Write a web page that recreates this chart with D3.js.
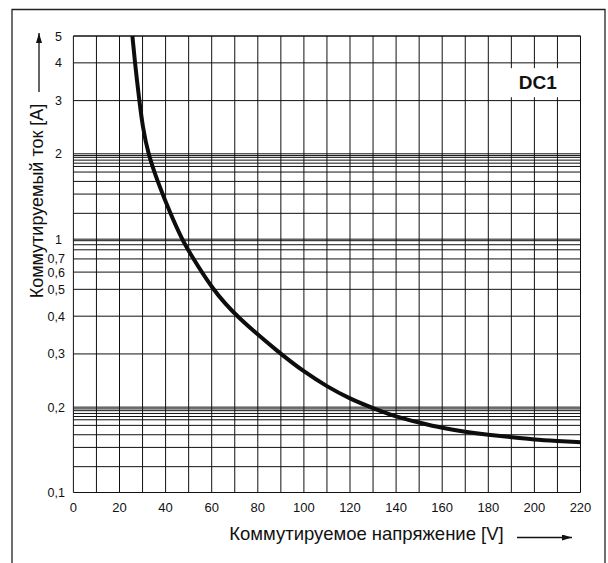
<!DOCTYPE html>
<html>
<head>
<meta charset="utf-8">
<script src="https://cdn.jsdelivr.net/npm/d3@7"></script>
<style>
  body { margin: 0; background: #fff; }
  svg text { font-family: "Liberation Sans", Arial, sans-serif; fill: #111; }
</style>
</head>
<body>
<svg id="chart"></svg>
<script>
// curve (DC1)
const voltage = [25.6, 26.7, 28.6, 30.0, 32.4, 36.5, 42.0, 47.1, 50.1, 60.3, 70.5, 89.9,
                 100, 110, 120, 130, 140, 150, 160, 170, 180, 190, 200, 210, 220];
const current = [5, 4, 3, 2.47, 2, 1.3, 1.1, 1.0, 0.78, 0.5, 0.4, 0.3,
                 0.262, 0.234, 0.213, 0.194, 0.159, 0.145, 0.137, 0.133, 0.130, 0.128, 0.126, 0.125, 0.124];

const xTickValues = [0, 20, 40, 60, 80, 100, 120, 140, 160, 180, 200, 220];
const xGridValues = d3.range(0, 221, 10);
const yTickValues = [0.1, 0.2, 0.3, 0.4, 0.5, 0.6, 0.7, 1, 2, 3, 4, 5];
const decadeStarts = [0.1, 1];
// grid mantissas inside one decade
const mantissas = [1, 1.1, 1.2, 1.3, 1.4, 1.5, 1.6, 1.7, 1.8, 1.9, 2, 3, 4, 5, 6, 7, 8, 9, 9.5];

const xLabel = "Коммутируемое напряжение [V]";
const yLabel = "Коммутируемый ток [A]";
const seriesName = "DC1";

const config = {
    width: 608, height: 563,
    margin: {top: 36, right: 27.5, bottom: 70.5, left: 73.4}
};
const width = config.width - config.margin.left - config.margin.right;
const height = config.height - config.margin.top - config.margin.bottom;

const svg = d3.select('#chart')
    .attr('width', config.width)
    .attr('height', config.height);

// outer frame (open at the bottom)
svg.append('path')
    .attr('d', `M12,${config.height} V9.5 H605 V${config.height}`)
    .attr('fill', 'none')
    .attr('stroke', '#222')
    .attr('stroke-width', 1.3);

const chart = svg.append('g')
    .attr('transform', `translate(${config.margin.left},${config.margin.top})`);

// the printed grid is not a true log grid: each decade is warped the same way
const warp = {1: 0, 1.1: 0.102, 1.2: 0.178, 1.3: 0.228, 1.4: 0.265, 1.5: 0.287, 1.6: 0.300,
              1.7: 0.312, 1.8: 0.323, 1.9: 0.330, 2: 0.337, 3: 0.547, 4: 0.696, 5: 0.802,
              6: 0.870, 7: 0.922, 8: 0.958, 9: 0.978, 9.5: 0.994, 10: 1};
const topValue = d3.max(yTickValues);
const decadePx = height / (1 + warp[5]);
let knots = [];
decadeStarts.forEach((d, i) => {
    Object.keys(warp).map(Number).sort((a, b) => a - b).forEach(m => {
        const v = +(m * d).toPrecision(4);
        if (v <= topValue && !knots.some(k => k[0] === v)) knots.push([v, height - (i + warp[m]) * decadePx]);
    });
});
knots.sort((a, b) => a[0] - b[0]);

const xScale = d3.scaleLinear().domain([0, 220]).range([0, width]);
const yScale = d3.scaleLog()
    .domain(knots.map(k => k[0]))
    .range(knots.map(k => k[1]));

const yGridValues = [];
decadeStarts.forEach(d => mantissas.forEach(m => {
    const v = +(m * d).toPrecision(4);
    if (v <= topValue) yGridValues.push(v);
}));
yGridValues.push(topValue);

// grid
chart.append('g').selectAll('line.v')
    .data(xGridValues)
    .join('line')
    .attr('x1', d => xScale(d)).attr('x2', d => xScale(d))
    .attr('y1', 0).attr('y2', height)
    .attr('stroke', '#111').attr('stroke-width', 1);

chart.append('g').selectAll('line.h')
    .data(yGridValues)
    .join('line')
    .attr('x1', 0).attr('x2', width)
    .attr('y1', d => yScale(d)).attr('y2', d => yScale(d))
    .attr('stroke', '#111').attr('stroke-width', 1);

// series label box
const labelG = chart.append('g')
    .attr('transform', `translate(${xScale(201)},${yScale(3.6)})`);
labelG.append('rect')
    .attr('x', -29).attr('y', -8.5)
    .attr('width', 61).attr('height', 29)
    .attr('fill', '#fff');
labelG.append('text')
    .attr('x', 1).attr('y', 12.5)
    .attr('text-anchor', 'middle')
    .style('font-size', '19px')
    .style('font-weight', 'bold')
    .text(seriesName);

// curve
const line = d3.line()
    .x((d, i) => xScale(voltage[i]))
    .y((d, i) => yScale(current[i]))
    .curve(d3.curveBasis);

chart.append('path')
    .datum(voltage)
    .attr('d', line)
    .attr('fill', 'none')
    .attr('stroke', '#0d0d0d')
    .attr('stroke-width', 4)
    .attr('stroke-linecap', 'butt');

// tick labels
chart.append('g').selectAll('text')
    .data(xTickValues)
    .join('text')
    .attr('x', d => xScale(d))
    .attr('y', height + 19)
    .attr('text-anchor', 'middle')
    .style('font-size', '13px')
    .text(d => d);

chart.append('g').selectAll('text')
    .data(yTickValues)
    .join('text')
    .attr('x', d => d < 1 ? -8.5 : -11.5)
    .attr('y', d => yScale(d) + (d === 0.7 ? -0.8 : d === 0.6 ? 0.5 : 0))
    .attr('dy', '0.36em')
    .attr('text-anchor', 'end')
    .style('font-size', '12.5px')
    .text(d => String(d).replace('.', ','));

// axis titles with arrows
svg.append('defs').append('marker')
    .attr('id', 'arrow')
    .attr('viewBox', '0 0 10 6')
    .attr('refX', 10).attr('refY', 3)
    .attr('markerWidth', 10).attr('markerHeight', 6)
    .attr('markerUnits', 'userSpaceOnUse')
    .attr('orient', 'auto')
    .append('path')
    .attr('d', 'M0,0 L10,3 L0,6 Z')
    .attr('fill', '#111');

svg.append('text')
    .attr('x', 366.5)
    .attr('y', 539.5)
    .attr('text-anchor', 'middle')
    .style('font-size', '18.5px')
    .text(xLabel);

svg.append('line')
    .attr('x1', 517).attr('x2', 572)
    .attr('y1', 537.5).attr('y2', 537.5)
    .attr('stroke', '#111').attr('stroke-width', 1.3)
    .attr('marker-end', 'url(#arrow)');

svg.append('text')
    .attr('transform', 'translate(42.5,201) rotate(-90)')
    .attr('text-anchor', 'middle')
    .style('font-size', '18px')
    .text(yLabel);

svg.append('line')
    .attr('x1', 39).attr('x2', 39)
    .attr('y1', 92).attr('y2', 33)
    .attr('stroke', '#111').attr('stroke-width', 1.3)
    .attr('marker-end', 'url(#arrow)');
</script>
</body>
</html>
